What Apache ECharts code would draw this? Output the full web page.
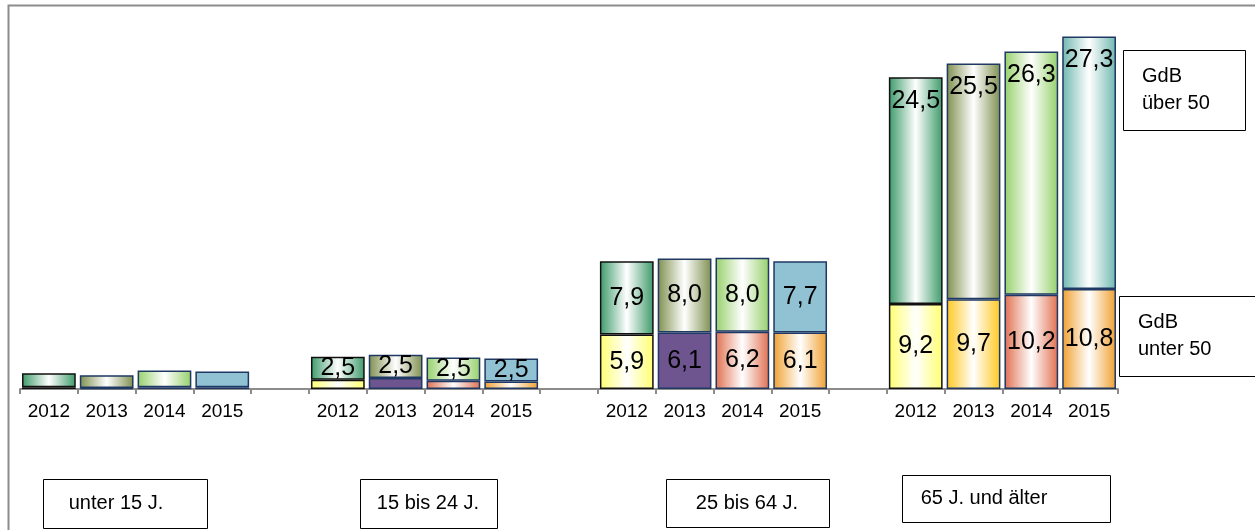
<!DOCTYPE html>
<html>
<head>
    <meta charset="utf-8">
    <title>GdB</title>
    <script src="https://cdn.jsdelivr.net/npm/echarts@6/dist/echarts.min.js"></script>
    <style>
        html, body { margin: 0; width: 100%; height: 100%; background: #fff; }
        #main { width: 1255px; height: 530px; }
    </style>
</head>
<body>
    <div id="main"></div>
    <script type="text/javascript">
        // 4 Altersgruppen x 4 Jahre, dazwischen je eine leere Kategorie als Abstand
        var categories = ['2012', '2013', '2014', '2015', '',
                          '2012', '2013', '2014', '2015', '',
                          '2012', '2013', '2014', '2015', '',
                          '2012', '2013', '2014', '2015'];
        var lowerValues = [0.2, 0.1, 0.2, 0.2, '-',
                           1.0, 1.2, 0.9, 0.8, '-',
                           5.9, 6.1, 6.2, 6.1, '-',
                           9.2, 9.7, 10.2, 10.8];
        var upperValues = [1.5, 1.4, 1.8, 1.7, '-',
                           2.5, 2.5, 2.5, 2.5, '-',
                           7.9, 8.0, 8.0, 7.7, '-',
                           24.5, 25.5, 26.3, 27.3];
        var groupLabels = ['unter 15 J.', '15 bis 24 J.', '25 bis 64 J.', '65 J. und älter'];
        var legendLabels = ['GdB\nüber 50', 'GdB\nunter 50'];

        // Farben je Jahr (Index 0..3), Gruppe 4 weicht teilweise ab
        var upperColors = ['#3d9a6a', '#7f8f4f', '#95d06a', '#90c2d4'];
        var lowerColors = ['#ffff70', '#6f5590', '#e07050', '#f0a030'];
        var upperGradient = [true, true, true, false];
        var lowerGradient = [true, false, true, true];
        var borderColors = ['#111111', '#1f3864', '#1f3864', '#1f3864'];

        var FONT = 'Liberation Sans, Arial';

        function fill(c, grad) {
            if (!grad) return c;
            return new echarts.graphic.LinearGradient(0, 0, 1, 0, [
                { offset: 0, color: c },
                { offset: 0.5, color: '#ffffff' },
                { offset: 1, color: c }
            ]);
        }

        function fmt(p) {
            return p.value >= 2 ? p.value.toFixed(1).replace('.', ',') : '';
        }

        function build(values, upper) {
            return values.map(function (v, i) {
                if (v === '-') return v;
                var year = i % 5;
                var group = Math.floor(i / 5);
                var c = upper ? upperColors[year] : lowerColors[year];
                var g = upper ? upperGradient[year] : lowerGradient[year];
                if (group === 3 && upper && year === 3) { c = '#70b8b0'; g = true; }
                if (group === 3 && !upper && year === 1) { c = '#ffc820'; g = true; }
                var item = {
                    value: v,
                    itemStyle: { color: fill(c, g), borderColor: borderColors[year], borderWidth: 1.5 }
                };
                if (upper && group === 3) {
                    item.label = { position: 'insideTop', distance: 11 };
                }
                return item;
            });
        }

        var myChart = echarts.init(document.getElementById('main'));

        var labelStyle = {
            show: true,
            position: 'inside',
            formatter: fmt,
            color: '#000',
            fontSize: 25,
            fontFamily: FONT
        };

        var graphics = [
            { type: 'rect', shape: { x: 8.5, y: 5.5, width: 1300, height: 600 },
              style: { fill: 'none', stroke: '#8c8c8c', lineWidth: 2 }, silent: true }
        ];
        // x, y, w, h, Text, Textmitte-x
        var boxes = [
            [43, 479, 164, 49, groupLabels[0], 116],
            [360, 479, 137, 49, groupLabels[1], 428],
            [666, 479, 163, 48, groupLabels[2], 747],
            [902, 475, 208, 47, groupLabels[3], 984]
        ];
        boxes.forEach(function (b) {
            graphics.push({ type: 'rect', shape: { x: b[0] + 0.5, y: b[1] + 0.5, width: b[2], height: b[3] },
                style: { fill: '#fff', stroke: '#000', lineWidth: 1 } });
            graphics.push({ type: 'text', x: b[5], y: b[1] + b[3] / 2,
                style: { text: b[4], fill: '#000', font: '20px ' + FONT,
                         align: 'center', verticalAlign: 'middle' } });
        });
        var legendBoxes = [
            [1123, 50, 122, 80, legendLabels[0]],
            [1119, 296, 150, 80, legendLabels[1]]
        ];
        legendBoxes.forEach(function (b) {
            graphics.push({ type: 'rect', shape: { x: b[0] + 0.5, y: b[1] + 0.5, width: b[2], height: b[3] },
                style: { fill: '#fff', stroke: '#000', lineWidth: 1 } });
            graphics.push({ type: 'text', x: b[0] + 19, y: b[1] + b[3] / 2,
                style: { text: b[4], fill: '#000', font: '20px ' + FONT,
                         lineHeight: 27, align: 'left', verticalAlign: 'middle' } });
        });

        var option = {
            animation: false,
            grid: { left: 20, right: 137, top: 19, bottom: 141 },
            xAxis: {
                type: 'category',
                data: categories,
                axisLine: { lineStyle: { color: '#8c8c8c', width: 2 } },
                axisTick: { show: true, interval: 0, length: 5, lineStyle: { color: '#8c8c8c', width: 2 } },
                axisLabel: { interval: 0, color: '#000', fontSize: 19, margin: 13, fontFamily: FONT }
            },
            yAxis: {
                type: 'value', min: 0, max: 40, interval: 10, show: false,
                splitLine: { show: false }
            },
            series: [
                {
                    name: 'unter 50', type: 'bar', stack: 'gdb',
                    barCategoryGap: '7%',
                    data: build(lowerValues, false),
                    label: labelStyle
                },
                {
                    name: 'über 50', type: 'bar', stack: 'gdb',
                    barCategoryGap: '7%',
                    data: build(upperValues, true),
                    label: labelStyle
                }
            ],
            graphic: graphics
        };

        myChart.setOption(option);
    </script>
</body>
</html>
